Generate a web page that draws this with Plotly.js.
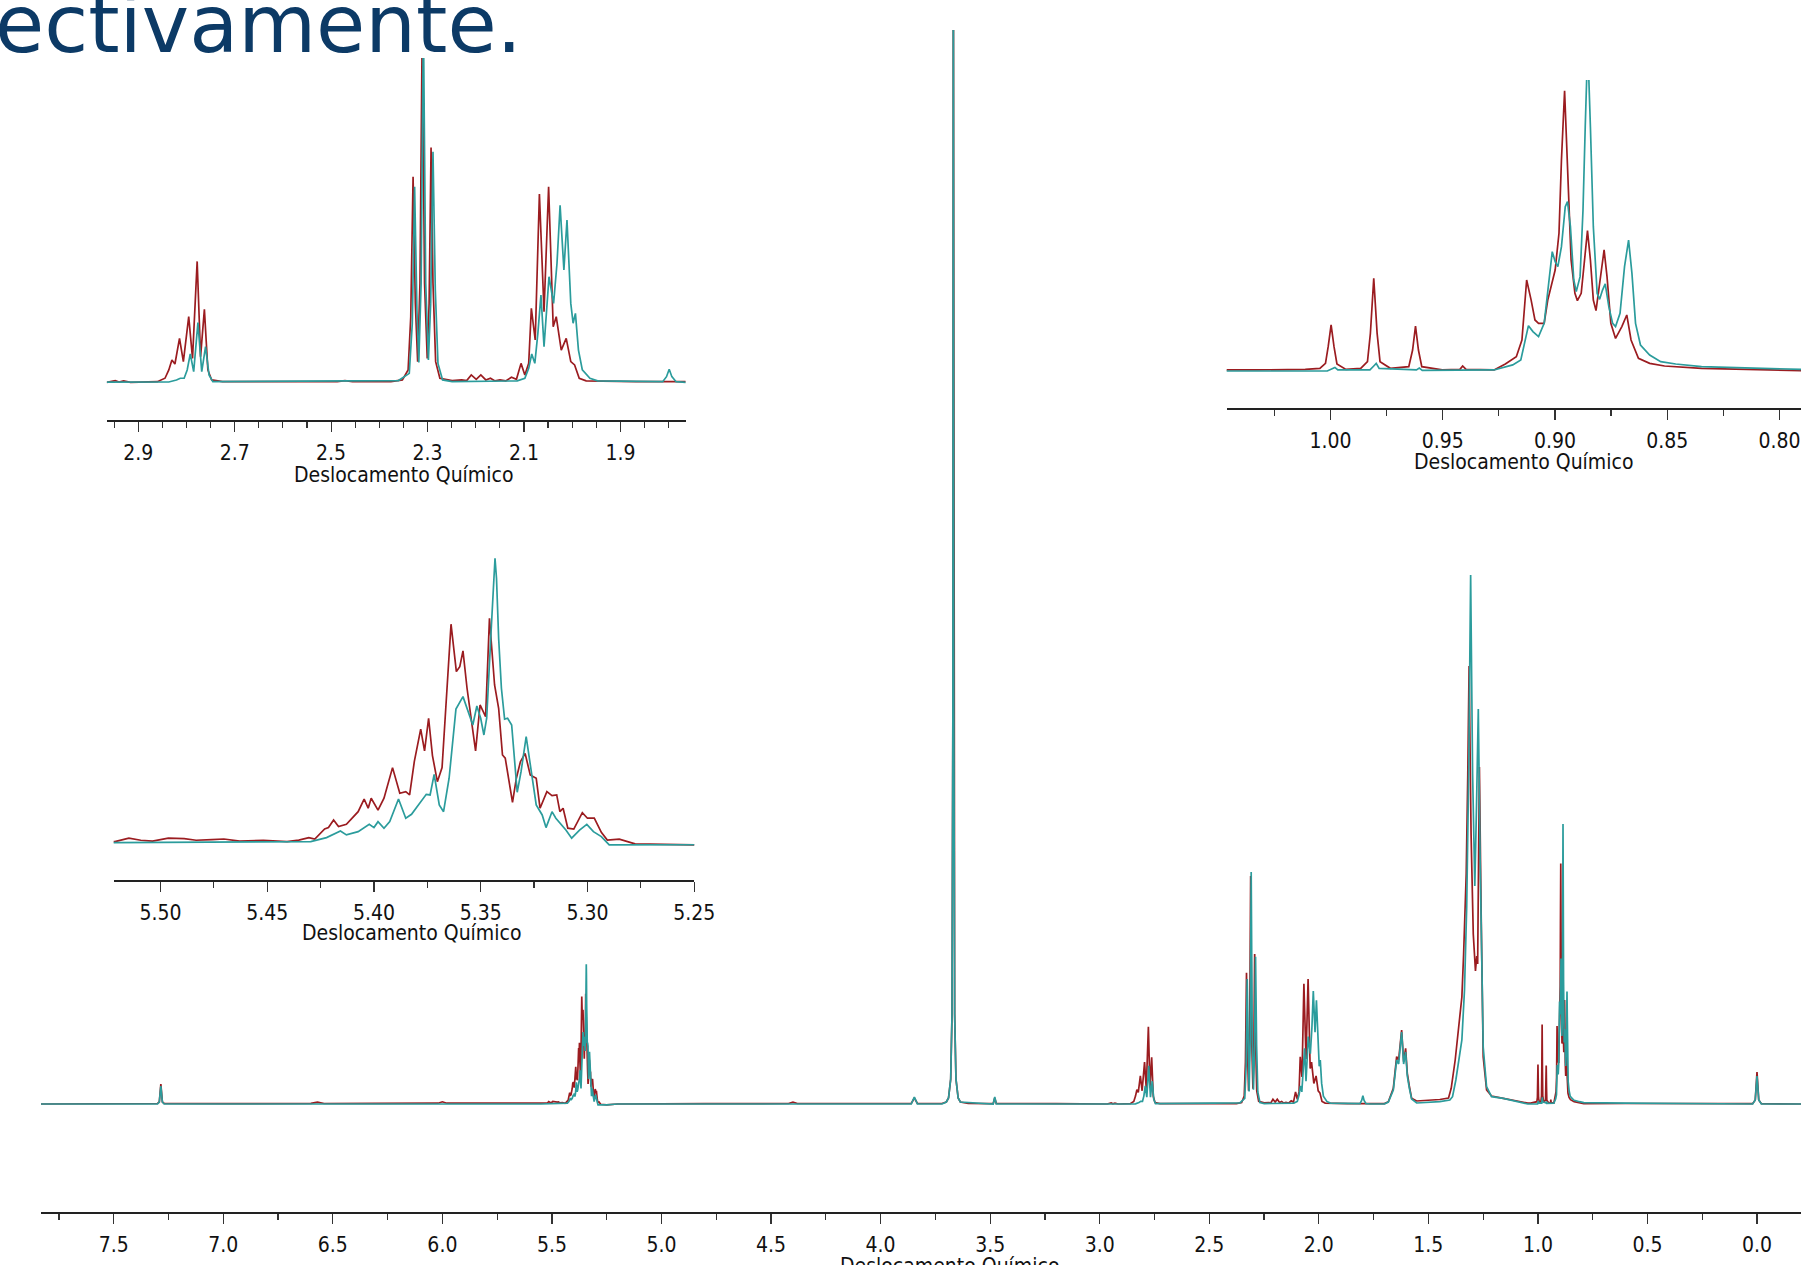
<!DOCTYPE html>
<html>
<head>
<meta charset="utf-8">
<script src="https://cdn.plot.ly/plotly-3.0.1.min.js"></script>
<style>html,body{margin:0;padding:0;background:#fff;}#chart{width:1801px;height:1265px;}</style>
</head>
<body>
<div id="chart"></div>
<script>
// ---- Data (chemical shift in ppm, intensity in arbitrary units) ----
const redShift = [
7.832,7.40,7.30,7.292,7.285,7.278,7.27,7.00,6.60,6.57,6.54,6.30,6.02,6.00,5.98,5.80,5.62,5.55,
5.5213,5.5148,5.5092,5.5037,5.4963,5.4889,5.4833,5.4759,5.4703,5.4629,5.4518,5.4407,5.4352,5.4305,5.4277,5.4231,5.4213,5.4189,5.4166,5.4129,5.4074,5.4046,5.4027,5.4013,5.3981,5.3953,5.3913,5.3879,5.3851,5.3833,5.3811,5.3781,5.3763,5.3744,5.3726,5.3703,5.3681,5.3639,5.3614,5.3598,5.3583,5.3564,5.3546,5.3524,5.3503,5.3490,5.3477,5.3459,5.3435,5.3416,5.3398,5.3385,5.3370,5.3351,5.3333,5.3314,5.3292,5.3268,5.3240,5.3222,5.3190,5.3166,5.3144,5.3129,5.3114,5.3092,5.3064,5.3024,5.3000,5.2968,5.2935,5.2907,5.2851,5.2814,5.2777,5.2500,
5.20,4.80,4.42,4.40,4.38,4.10,3.90,3.86,3.846,3.832,3.72,3.70,3.69,3.68,3.674,3.670,3.668,3.666,3.662,3.656,3.646,3.636,3.60,3.50,3.486,3.479,3.472,3.20,3.00,
2.9652,2.9477,2.9398,2.9303,2.916,2.8604,2.8445,2.8366,2.8302,2.8239,2.8144,2.8064,2.7953,2.7874,2.7778,2.7707,2.7628,2.7556,2.7477,2.7254,2.4872,2.4713,2.4555,2.376,2.3522,2.3403,2.3348,2.330,2.3253,2.3205,2.3157,2.311,2.3062,2.3006,2.2967,2.2927,2.2887,2.2832,2.2744,2.249,2.2292,2.2188,2.2093,2.199,2.1895,2.1791,2.1696,2.1601,2.1498,2.1379,2.126,2.1156,2.1061,2.0982,2.0902,2.0847,2.0767,2.068,2.0584,2.0489,2.0394,2.0331,2.0227,2.0124,2.0029,1.995,1.9854,1.9711,1.8679,1.7647,
1.70,1.6826,1.6599,1.6447,1.6356,1.6219,1.6128,1.6037,1.5961,1.5869,1.5763,1.5535,1.4933,1.4476,1.4079,1.3957,1.3775,1.3622,1.347,1.339,1.3272,1.320,1.314,1.305,1.295,1.285,1.279,1.275,1.267,1.259,1.2496,1.2343,1.2115,1.1582,1.10,1.06,
1.0462,1.0327,1.0112,1.0047,1.0022,1.001,0.9997,0.9984,0.9971,0.9931,0.9865,0.9835,0.9822,0.9807,0.9792,0.9779,0.9733,0.9651,0.9634,0.9621,0.9608,0.9593,0.9502,0.9423,0.9411,0.9396,0.9271,0.9221,0.9172,0.9147,0.9126,0.9106,0.9089,0.9073,0.9048,0.9032,0.9015,0.8999,0.8982,0.8971,0.8957,0.8944,0.8928,0.8911,0.8900,0.8883,0.8867,0.8855,0.8842,0.8829,0.8817,0.8796,0.8781,0.8768,0.8751,0.8730,0.8702,0.8680,0.8661,0.8628,0.8578,0.8512,0.8347,0.7905,
0.60,0.30,0.02,0.008,0.0,-0.008,-0.02,-0.2008
];
const redInt = [
0,0.3,0.5,2,20,2,0.5,0.4,0.6,1.8,0.5,0.6,0.8,2.2,0.8,0.8,1.2,1.0,
0.8,2.5,1.5,1.1,2.5,2.3,1.5,1.8,2.1,1.1,1.5,0.8,1.6,2.8,2.1,7.0,7.7,11.4,8.2,9.3,15.5,21.7,17.2,22.1,16.3,22.1,37.1,24.5,25.3,23.7,40.0,56.0,45.3,61.3,43.0,30.2,37.1,107.4,84.2,86.6,94.3,76.0,61.3,45.3,67.8,64.5,62.1,110.3,77.6,66.2,43.3,41.7,31.9,20.1,31.9,40.0,44.1,33.5,31.9,17.2,25.3,23.4,23.7,15.5,17.2,7.4,7.0,15.0,12.3,12.3,5.4,1.6,2.0,0.8,-0.3,-0.8,
0,0.3,0.5,1.8,0.5,0.5,0.3,0.5,6,0.5,0.5,2,6,25,90,400,1200,400,90,25,6,2,0.5,0.3,0.6,6,0.6,0.3,0.5,
0,1.1,0.2,0.9,0,0.4,2.6,7.9,14.3,11.7,28.1,13.2,41.9,15.3,77.2,16.4,46.6,7.9,1.5,0.4,0.4,1.1,0.4,0.4,1.5,7.9,41.9,131.3,50.4,13.2,63.2,228,63.2,15.3,50.4,150,63.2,13.2,2.6,1.1,1.5,1.1,4.7,1.9,4.7,1.5,2.6,0.9,1.5,0.9,3.2,1.9,12.1,4.7,12.1,47.2,27.0,120.2,45.1,124.9,35.5,41.9,20.6,28.1,13.2,11.1,2.6,0.9,0.4,0,
0.4,2.3,15.7,47.3,44,74,42.3,55.7,30.7,18,5.7,3,4,4.5,6,15.7,44,77,107,150,230,330,438,270,170,133,148,140,337,190,47,14,8,5.7,3,1.5,
0.9,0.9,1.4,2.3,6.6,20.9,39.5,20.9,6.0,1.4,2.3,8.0,32.3,79.5,32.3,8.0,2.3,3.7,18.0,38.6,18.0,3.7,0.9,1.4,4.3,1.4,0.9,6.0,12.3,26.6,78.1,60.9,43.8,40.9,40.9,60.9,75.3,86.7,118.2,181.1,240.6,172.5,95.3,66.7,60.4,66.7,101,120.5,95.3,60.9,51.8,83.8,103.9,81.0,40.9,28.0,38.1,48.1,26.6,10.9,6.6,4.3,2.3,0.3,
0.5,0.3,0.3,4,32,4,0.3,0
];
const tealShift = [
7.832,7.30,7.292,7.285,7.278,7.27,5.55,
5.5213,5.4296,5.4222,5.4157,5.4129,5.4074,5.4022,5.4000,5.3981,5.3953,5.3926,5.3885,5.3851,5.3824,5.3787,5.3755,5.3737,5.3718,5.3694,5.3674,5.3648,5.3616,5.3583,5.3555,5.3537,5.3518,5.3500,5.3485,5.3472,5.3453,5.3440,5.3433,5.3426,5.3416,5.3403,5.3388,5.3374,5.3355,5.3329,5.3311,5.3287,5.3259,5.3240,5.3212,5.3194,5.3166,5.3148,5.3101,5.3074,5.3037,5.3003,5.2972,5.2935,5.2898,5.2500,
5.20,3.86,3.846,3.832,3.72,3.70,3.69,3.68,3.674,3.670,3.668,3.666,3.662,3.656,3.646,3.636,3.486,3.479,3.472,3.00,
2.9652,2.8366,2.8207,2.8128,2.8048,2.7985,2.7921,2.785,2.7762,2.7683,2.7604,2.7532,2.7453,2.3602,2.3379,2.3316,2.3268,2.322,2.3181,2.3133,2.3086,2.3038,2.2982,2.2935,2.2887,2.2839,2.2784,2.2688,2.249,2.114,2.0982,2.0902,2.0839,2.0775,2.0712,2.0648,2.0584,2.0481,2.0386,2.0315,2.0251,2.0172,2.0108,2.0029,1.9981,1.9933,1.987,1.979,1.9632,1.9473,1.8123,1.8044,1.7988,1.7933,1.7845,1.7647,
1.70,1.6826,1.6599,1.6447,1.6356,1.6219,1.6128,1.6037,1.5961,1.5869,1.5763,1.5535,1.4933,1.4476,1.4019,1.3897,1.3745,1.360,1.347,1.335,1.325,1.316,1.307,1.298,1.288,1.280,1.272,1.264,1.2572,1.2496,1.2343,1.2115,1.1582,1.10,1.06,
1.0462,1.0014,0.9990,0.9980,0.9967,0.9824,0.9807,0.9796,0.9783,0.9617,0.9604,0.9591,0.9271,0.9188,0.9152,0.9131,0.9118,0.9098,0.9073,0.9048,0.9028,0.9012,0.8999,0.8987,0.8971,0.8954,0.8944,0.8931,0.8916,0.8905,0.8888,0.8875,0.8865,0.8854,0.8842,0.8829,0.8812,0.8801,0.8788,0.8776,0.8760,0.8743,0.8730,0.8710,0.8690,0.8672,0.8657,0.8641,0.8619,0.8578,0.8529,0.8462,0.8347,0.8100,0.7905,
0.60,0.30,0.02,0.008,0.0,-0.008,-0.02,-0.2008
];
const tealInt = [
0,0,2,18,2,0,0,
0.3,0.8,2.8,6.0,4.1,5.7,9.3,7.7,10.6,7.4,10.6,21.7,12.3,14.2,19.6,24.0,23.7,33.8,18.8,15.5,31.9,65.8,71.9,62.9,58.0,67.3,61.3,53.1,61.3,100.5,129.9,139.7,129.9,100.5,76.0,60.9,61.3,58.0,25.0,35.1,52.3,31.9,18.8,13.9,7.7,15.5,12.3,6.5,2.5,6.5,9.3,5.7,3.3,-0.8,-0.8,
0,0,7,0,0,2,6,25,90,400,1200,400,90,25,6,2,0,7,0,0,
0,0.2,1.5,2.6,2.6,7.9,18.1,6.8,38.1,6.8,22.8,4.7,0.4,1.1,5.7,37.7,124.9,46.2,12.6,63.2,232,63.2,14.3,50.4,147.2,58.9,12.1,1.5,0.4,0.9,2.6,8.9,18.1,12.1,31.3,55.7,22.8,67.4,50.4,76.0,113.0,71.7,103.6,50.4,37.7,44.0,20.6,7.9,2.6,0.9,0.4,3.6,8.3,3.6,0.4,0,
0.2,2,14,44,40,72,40,52,28,16,5,1,2,2.3,4,7.3,24,45,64,114,197,330,529,330,218,300,395,250,164,57,17.3,7.3,5.7,3,1,
0,0,2.0,3.1,0.9,0.9,4.3,6.6,2.3,0.9,2.6,0.6,0.9,5.2,9.4,26.6,38.9,33.8,29.5,40.9,78.1,102.4,93.8,89.6,106.7,141.1,145.4,123.9,78.1,68.1,81.0,138.2,209.7,280,209.7,123.9,66.7,61.5,69.5,74.7,55.2,40.9,38.1,49.5,89.6,112.4,83.8,40.9,22.3,13.7,8.0,6.0,3.7,2.3,1.4,
0.8,0.3,0,4,28,4,0,0
];
const axisTitle = 'Deslocamento Químico';
const headingText = 'ectivamente.';

// ---- Styling ----
const RED = '#9b1c20', TEAL = '#2b9c9c';
const FONT = '"DejaVu Sans Condensed", "DejaVu Sans", sans-serif';

function trace(xs, ys, color, xa, ya, w) {
  return {x: xs, y: ys, type: 'scatter', mode: 'lines', line: {color: color, width: w},
          xaxis: xa, yaxis: ya, hoverinfo: 'skip', showlegend: false};
}
const traces = [];
[['x','y',1.7],['x2','y2',1.7],['x3','y3',1.7],['x4','y4',1.7]].forEach(function(p){
  traces.push(trace(redShift, redInt, RED, p[0], p[1], p[2]));
  traces.push(trace(tealShift, tealInt, TEAL, p[0], p[1], p[2]));
});

function xax(range, domain, dtick, tick0, minorDtick, fmt, anchor) {
  return {
    range: range, domain: domain, anchor: anchor, autorange: false, fixedrange: true,
    showgrid: false, zeroline: false, showline: true, linecolor: '#222', linewidth: 1.5,
    ticks: 'outside', ticklen: 10, tickwidth: 1.2, tickcolor: '#333',
    dtick: dtick, tick0: tick0, tickformat: fmt, ticklabelstandoff: 3,
    tickfont: {family: FONT, size: 21, color: '#111'},
    minor: {ticks: 'outside', ticklen: 6, tickwidth: 1.2, tickcolor: '#333', dtick: minorDtick, tick0: tick0, showgrid: false}
  };
}
function yax(range, domain, anchor) {
  return {range: range, domain: domain, anchor: anchor, visible: false, fixedrange: true, autorange: false};
}
const W = 1801, H = 1265;
function px(x){ return x / W; }
function py(y){ return 1 - y / H; }
function title(x, y, t) {
  return {text: t, x: px(x), y: py(y), xref: 'paper', yref: 'paper', xanchor: 'center', yanchor: 'middle',
          showarrow: false, font: {family: FONT, size: 21, color: '#111'}};
}

const layout = {
  width: W, height: H, margin: {l: 0, r: 0, t: 0, b: 0}, autosize: false, showlegend: false,
  paper_bgcolor: '#ffffff', plot_bgcolor: 'rgba(0,0,0,0)',
  font: {family: FONT, size: 21, color: '#111'},
  xaxis:  xax([7.832, -0.2008], [px(41), 1], 0.5, 0, 0.25, '.1f', 'y'),
  yaxis:  yax([-108, 1074], [py(1212), py(30)], 'x'),
  xaxis2: xax([2.965, 1.765], [px(106.9), px(685.5)], 0.2, 1.9, 0.05, '.1f', 'y2'),
  yaxis2: yax([-24.07, 207.09], [py(420), py(58)], 'x2'),
  xaxis3: xax([1.0462, 0.7904], [px(1226.7), 1], 0.05, 0, 0.025, '.2f', 'y3'),
  yaxis3: yax([-32.02, 249.79], [py(408.3), py(80)], 'x3'),
  xaxis4: xax([5.5219, 5.25], [px(113.7), px(694.2)], 0.05, 0, 0.025, '.2f', 'y4'),
  yaxis4: yax([-17.99, 143.77], [py(880), py(550)], 'x4'),
  annotations: [
    {text: headingText, x: px(524), y: py(24.5), xref: 'paper', yref: 'paper', xanchor: 'right', yanchor: 'middle',
     showarrow: false, font: {family: '"DejaVu Sans", sans-serif', size: 80, color: '#0c3a66'}},
    title(949, 1266, axisTitle),
    title(403, 475, axisTitle),
    title(1523, 461.7, axisTitle),
    title(411, 933.3, axisTitle)
  ]
};
Plotly.newPlot('chart', traces, layout, {staticPlot: true, displayModeBar: false});
</script>
</body>
</html>
